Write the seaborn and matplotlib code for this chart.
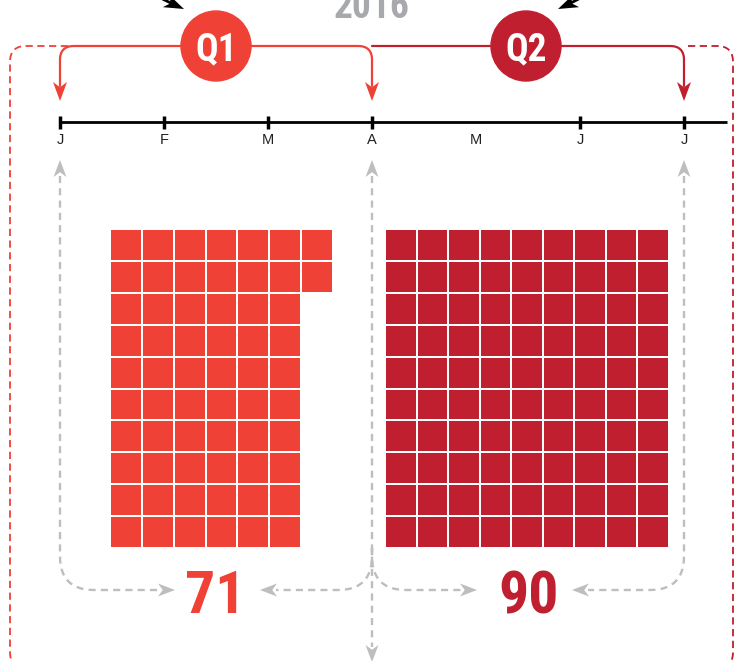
import numpy as np
import matplotlib
matplotlib.use("Agg")
import matplotlib.pyplot as plt
from matplotlib.patches import Circle, Polygon
from matplotlib.colors import ListedColormap
import seaborn as sns

# data
quarters = ["Q1", "Q2"]
quarter_values = [71, 90]
waffle_squares = [62, 90]
waffle_rows = 10
waffle_cols = [7, 9]
months = ["J", "F", "M", "A", "M", "J", "J"]
tick_months = [0, 1, 2, 3, 5, 6]
year = "2016"

q_colors = ["#ef4136", "#c01f2f"]
grey = "#bcbec0"
narrow = ["Roboto Condensed", "DejaVu Sans"]

sns.set_theme(style="white")
plt.rcParams["font.family"] = ["Liberation Sans", "DejaVu Sans"]

W, H = 734, 661
fig = plt.figure(figsize=(W / 100, H / 100), dpi=100)
ax = fig.add_axes([0, 0, 1, 1])
ax.set_xlim(0, W)
ax.set_ylim(H, 0)
ax.axis("off")


def rounded(pts, r, n=14):
    out = [np.array(pts[0], float)]
    for i in range(1, len(pts) - 1):
        p0, p1, p2 = (np.array(p, float) for p in pts[i - 1:i + 2])
        d1 = (p1 - p0) / np.linalg.norm(p1 - p0)
        d2 = (p2 - p1) / np.linalg.norm(p2 - p1)
        a, b = p1 - d1 * r, p1 + d2 * r
        t = np.linspace(0, 1, n)[:, None]
        out.extend((1 - t) ** 2 * a + 2 * (1 - t) * t * p1 + t ** 2 * b)
    out.append(np.array(pts[-1], float))
    arr = np.array(out)
    return arr[:, 0], arr[:, 1]


def arrowhead(tip, direction, length, width, color, z=4):
    tip = np.array(tip, float)
    d = np.array(direction, float)
    d /= np.linalg.norm(d)
    nrm = np.array([-d[1], d[0]])
    base = tip - d * length
    notch = tip - d * length * 0.72
    pts = [tip, base + nrm * width / 2, notch, base - nrm * width / 2]
    ax.add_patch(Polygon(pts, closed=True, facecolor=color, edgecolor="none", zorder=z))


# timeline
x0, step, ty = 60, 104, 122
mx = [x0 + i * step for i in range(len(months))]
ax.plot([x0, 727], [ty, ty], color="black", lw=2, solid_capstyle="butt", zorder=3)
for i in tick_months:
    ax.plot([mx[i], mx[i]], [116, 129], color="black", lw=2.5, solid_capstyle="butt", zorder=3)
for x, m in zip(mx, months):
    ax.text(x, 143.5, m, ha="center", va="baseline", fontsize=10.5, color="#231f20")

# outer dashed frame
dash = (0, (4, 2.5))
xs, ys = rounded([(68, 46), (10, 46), (10, 668), (373, 668)], 16)
ax.plot(xs, ys, color=q_colors[0], lw=1.3, linestyle=dash, zorder=2)
xs, ys = rounded([(688, 46), (733, 46), (733, 668), (373, 668)], 16)
ax.plot(xs, ys, color=q_colors[1], lw=1.3, linestyle=dash, zorder=2)

# quarter brackets
cx = [216, 526]
ends = [(mx[0], mx[3]), (mx[3], mx[6])]
for k, q in enumerate(quarters):
    a, b = ends[k]
    if k == 0:
        pts = [(a, 86), (a, 46), (b, 46), (b, 86)]
    else:
        pts = [(a, 46), (b, 46), (b, 86)]
    xs, ys = rounded(pts, 14)
    ax.plot(xs, ys, color=q_colors[k], lw=1.6, zorder=3)
    arrowhead((b, 101), (0, 1), 19, 14, q_colors[k])
    if k == 0:
        arrowhead((a, 101), (0, 1), 19, 14, q_colors[k])
    ax.add_patch(Circle((cx[k], 46), 35, color=q_colors[k], zorder=5))
    ax.text(cx[k], 60, q, ha="center", va="baseline", color="white",
            fontsize=27, fontweight="bold", family=narrow, zorder=6)

ax.text(372, 18, year, ha="center", va="baseline", color="#a7a9ac",
        fontsize=27, fontweight="bold", family=narrow)

# black arrows from above
ax.plot([140, 178], [-12, 6.5], color="black", lw=2)
arrowhead((184, 9), (1, 0.45), 20, 14, "black")
ax.plot([600, 564], [-12, 6.5], color="black", lw=2)
arrowhead((558, 9), (-1, 0.45), 20, 14, "black")

# grey dashed guides
gdash = (0, (3, 2.2))
guides = [
    [(mx[0], 176), (mx[0], 590), (160, 590)],
    [(mx[3], 176), (mx[3], 647)],
    [(mx[3], 548), (mx[3], 590), (276, 590)],
    [(mx[3], 548), (mx[3], 590), (462, 590)],
    [(mx[6], 176), (mx[6], 590), (588, 590)],
]
for g in guides:
    xs, ys = rounded(g, 34)
    ax.plot(xs, ys, color=grey, lw=1.7, linestyle=gdash, zorder=2)
for x in (mx[0], mx[3], mx[6]):
    arrowhead((x, 160), (0, -1), 17, 13, grey)
arrowhead((mx[3], 662), (0, 1), 17, 13, grey)
arrowhead((175, 590), (1, 0), 17, 13, grey)
arrowhead((260, 590), (-1, 0), 17, 13, grey)
arrowhead((477, 590), (1, 0), 17, 13, grey)
arrowhead((572, 590), (-1, 0), 17, 13, grey)

# values
value_x = [215, 529]
for k, v in enumerate(quarter_values):
    ax.text(value_x[k], 613, str(v), ha="center", va="baseline", color=q_colors[k],
            fontsize=43, fontweight="bold", family=narrow)

# waffles
boxes = [(111, 230, 221, 317), (386, 230, 282, 317)]
for k in range(len(quarters)):
    left, top, w, h = boxes[k]
    left, top, w, h = left - 0.6, top - 0.6, w + 1.2, h + 1.2
    hax = fig.add_axes([left / W, (H - top - h) / H, w / W, h / H])
    cols = waffle_cols[k]
    grid = np.ones((waffle_rows, cols))
    order = np.arange(waffle_rows * cols).reshape(cols, waffle_rows).T
    mask = order >= waffle_squares[k]
    sns.heatmap(grid, mask=mask, cmap=ListedColormap([q_colors[k]]), cbar=False,
                linewidths=1.2, linecolor="white", xticklabels=False,
                yticklabels=False, ax=hax)
    hax.axis("off")

fig.savefig("out.png", dpi=100)
